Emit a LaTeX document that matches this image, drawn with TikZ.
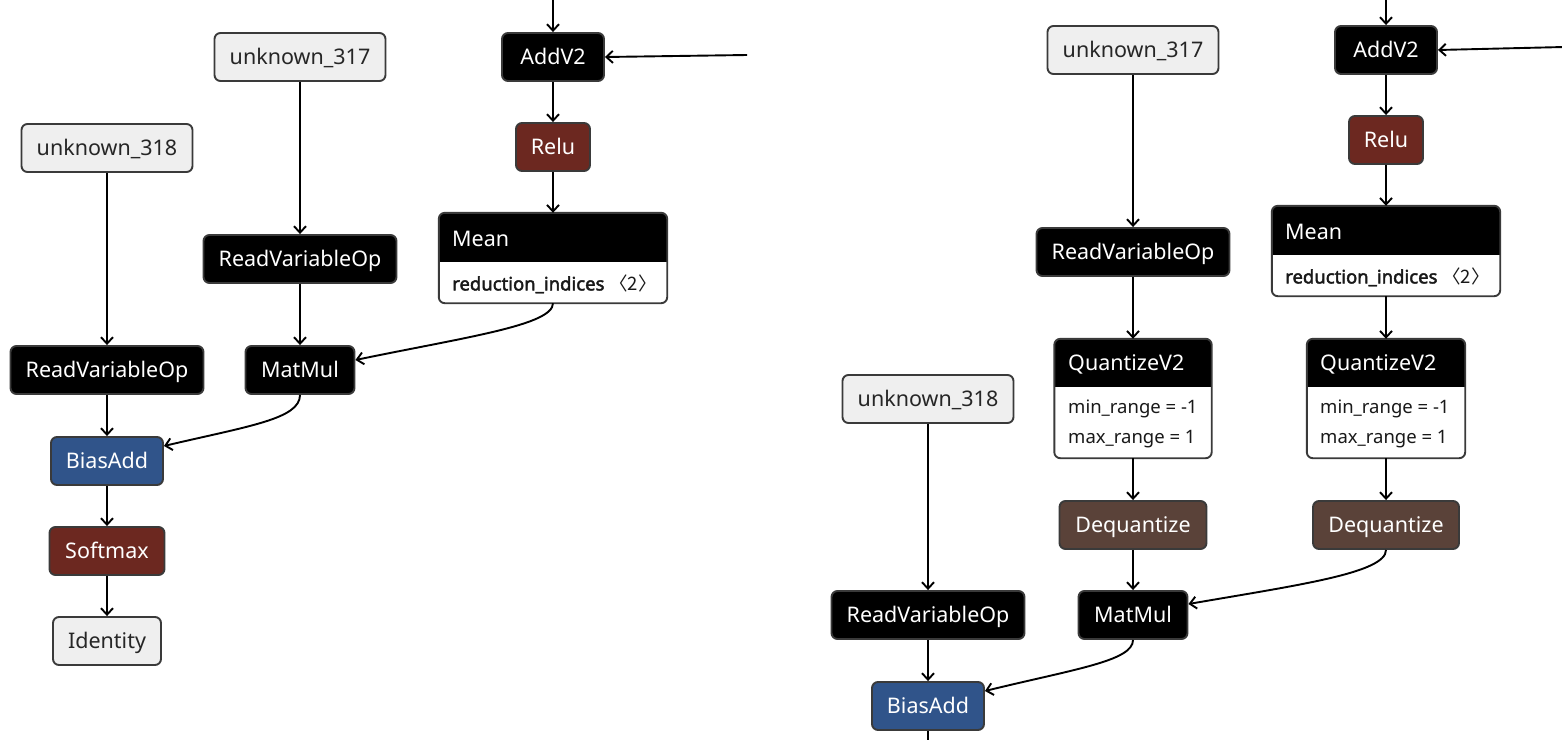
\documentclass[tikz,border=0pt]{standalone}
\usepackage{fontspec}
\setmainfont{Noto Sans}
\newfontfamily\attrbold{Noto Sans}[FakeBold=2.4]
\newfontfamily\cjkfont{Noto Sans CJK SC}
\usetikzlibrary{arrows.meta,calc}

\definecolor{borderC}{HTML}{3A3A3A}
\definecolor{liteC}{HTML}{EFEFEF}
\definecolor{reluC}{HTML}{6C2820}
\definecolor{biasC}{HTML}{30548A}
\definecolor{deqC}{HTML}{5A4239}

\tikzset{
  op/.style={draw=borderC, line width=1.9pt, rounded corners=6pt, minimum height=48pt,
    inner sep=0pt, text height=18pt, text depth=4pt,
    font=\fontsize{21.5}{24}\selectfont, text=white, fill=black},
  lite/.style={op, fill=liteC, text=black!85},
  act/.style={op, fill=reluC},
  biasop/.style={op, fill=biasC},
  deq/.style={op, fill=deqC},
  edge/.style={draw=black, line width=1.9pt,
    -{Straight Barb[length=6.5pt,width=12pt,line width=1.9pt]}},
  hdr/.style={anchor=west, inner sep=0pt, text=white, font=\fontsize{21.5}{24}\selectfont},
  attr/.style={anchor=west, inner sep=0pt, text=black!90, font=\fontsize{18.5}{21}\selectfont},
}

% box with a black title band and a white attribute area
\newcommand{\opsplit}[5]{%
  \node[draw=none, minimum width=#3pt, minimum height=#4pt, inner sep=0pt] (#1) at (#2) {};
  \begin{scope}
    \clip[rounded corners=6pt] (#1.north west) rectangle (#1.south east);
    \fill[white] (#1.north west) rectangle (#1.south east);
    \fill[black] (#1.north west) rectangle ($(#1.north east)+(0,#5)$);
  \end{scope}
  \draw[draw=borderC, line width=1.9pt, rounded corners=6pt]
    (#1.north west) rectangle (#1.south east);
}

\begin{document}
\begin{tikzpicture}[x=1pt, y=-1pt]
\useasboundingbox (0,0) rectangle (1562,739);

% ---------- left graph ----------
\node[lite, minimum width=171pt] (uA318) at (107,148) {unknown\_318};
\node[lite, minimum width=171pt] (uA317) at (300,57) {unknown\_317};
\node[op, minimum width=102pt] (addA) at (553,57) {AddV2};
\node[act, minimum width=74pt] (reluA) at (553,147) {Relu};
\opsplit{meanA}{553,258}{228}{90}{49}
\node[hdr] (meanAh) at (452,239) {Mean};
\node[attr] (meanAa) at (452,284) {{\attrbold reduction\_indices} {\cjkfont 〈2〉}};
\node[op, minimum width=193pt] (rvoAb) at (300,259) {ReadVariableOp};
\node[op, minimum width=193pt] (rvoAa) at (107,370) {ReadVariableOp};
\node[op, minimum width=109pt] (mmA) at (300,370) {MatMul};
\node[biasop, minimum width=112pt] (biasA) at (107,461) {BiasAdd};
\node[act, minimum width=115pt] (smA) at (107,551) {Softmax};
\node[lite, minimum width=108pt] (idA) at (107,641) {Identity};

\coordinate (topA) at (553,-2);
\coordinate (inA) at (747,55);

\draw[edge] (topA) -- (addA.north);
\draw[edge] (inA) -- (addA.east);
\draw[edge] (addA.south) -- (reluA.north);
\draw[edge] (reluA.south) -- (meanA.north);
\draw[edge] (uA317.south) -- (rvoAb.north);
\draw[edge] (uA318.south) -- (rvoAa.north);
\draw[edge] (rvoAb.south) -- (mmA.north);
\draw[edge] (rvoAa.south) -- (biasA.north);
\draw[edge] (meanA.south) .. controls +(0,22) and +(111,-23) .. ([yshift=10pt]mmA.east);
\draw[edge] (mmA.south) .. controls +(0,24) and +(85,-20) .. ([yshift=15pt]biasA.east);
\draw[edge] (biasA.south) -- (smA.north);
\draw[edge] (smA.south) -- (idA.north);

% ---------- right graph ----------
\node[lite, minimum width=171pt] (uB317) at (1133,50) {unknown\_317};
\node[op, minimum width=102pt] (addB) at (1386,50) {AddV2};
\node[act, minimum width=74pt] (reluB) at (1386,140) {Relu};
\opsplit{meanB}{1386,251}{228}{90}{49}
\node[hdr] (meanBh) at (1285,232) {Mean};
\node[attr] (meanBa) at (1285,277) {{\attrbold reduction\_indices} {\cjkfont 〈2〉}};
\node[op, minimum width=193pt] (rvoBb) at (1133,252) {ReadVariableOp};

\opsplit{qB1}{1133,398.5}{157}{119}{48}
\node[hdr] (qB1h) at (1068,364) {QuantizeV2};
\node[attr] (qB1a) at (1068,409) {min\_range = -1};
\node[attr] (qB1b) at (1068,439) {max\_range = 1};

\opsplit{qB2}{1386,398.5}{158}{119}{48}
\node[hdr] (qB2h) at (1320,364) {QuantizeV2};
\node[attr] (qB2a) at (1320,409) {min\_range = -1};
\node[attr] (qB2b) at (1320,439) {max\_range = 1};

\node[lite, minimum width=171pt] (uB318) at (928,399) {unknown\_318};
\node[deq, minimum width=147pt] (dqB1) at (1133,525) {Dequantize};
\node[deq, minimum width=146pt] (dqB2) at (1386,525) {Dequantize};
\node[op, minimum width=193pt] (rvoBa) at (928,615) {ReadVariableOp};
\node[op, minimum width=109pt] (mmB) at (1133,615) {MatMul};
\node[biasop, minimum width=112pt] (biasB) at (928,706) {BiasAdd};

\coordinate (topB) at (1386,-2);
\coordinate (inB) at (1564,47);
\coordinate (outB) at (928,745);

\draw[edge] (topB) -- (addB.north);
\draw[edge] (inB) -- (addB.east);
\draw[edge] (addB.south) -- (reluB.north);
\draw[edge] (reluB.south) -- (meanB.north);
\draw[edge] (uB317.south) -- (rvoBb.north);
\draw[edge] (rvoBb.south) -- (qB1.north);
\draw[edge] (meanB.south) -- (qB2.north);
\draw[edge] (qB1.south) -- (dqB1.north);
\draw[edge] (qB2.south) -- (dqB2.north);
\draw[edge] (dqB1.south) -- (mmB.north);
\draw[edge] (dqB2.south) .. controls +(0,23) and +(110,-19) .. ([yshift=11pt]mmB.east);
\draw[edge] (uB318.south) -- (rvoBa.north);
\draw[edge] (rvoBa.south) -- (biasB.north);
\draw[edge] (mmB.south) .. controls +(0,21) and +(90,-22) .. ([yshift=15pt]biasB.east);
\draw[draw=black, line width=1.9pt] (biasB.south) -- (outB);
\end{tikzpicture}
\end{document}
